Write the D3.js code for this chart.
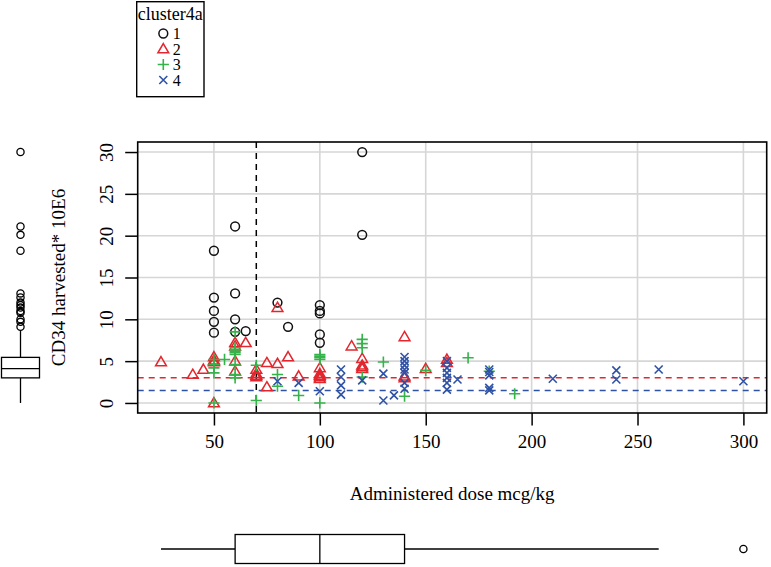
<!DOCTYPE html>
<html><head><meta charset="utf-8">
<script src="https://cdn.jsdelivr.net/npm/d3@7"></script>
<style>body{margin:0;background:#fff}svg{display:block}</style>
</head><body><svg id="c" width="771" height="567"></svg>
<script>
// ---- data ----
const clusters = ["1","2","3","4"];
const c1x = [50,50,50,50,50, 60,60,60,60, 65, 80, 85, 100,100,100,100,100, 120,120];
const c1y = [18.2,12.6,11.0,9.7,8.4, 21.1,13.1,10.0,8.5, 8.6, 12.0, 9.1, 11.7,11.0,10.7,8.2,7.2, 30.0,20.1];
const c2x = [25,40,45,50,50,50,50,50, 60,60,60,60, 65, 70,70,70,70, 75,75, 80,80, 85, 90, 100,100,100,100,100, 115, 120,120,120,120, 140,140,140, 150, 160,160];
const c2y = [4.9,3.4,4.0,5.5,5.1,4.9,5.0,0.0, 7.2,6.8,5.0,3.8, 7.2, 4.0,3.5,3.3,3.1, 4.8,1.9, 11.4,4.7, 5.5, 3.2, 4.2,3.5,3.3,3.1,2.9, 6.8, 5.3,4.5,4.3,4.1, 7.9,3.2,3.0, 4.1, 5.2,4.8];
const c3x = [50,50,50,50,50, 55, 60,60,60,60,60,60,60,60,60, 70,70, 80,80, 90, 100,100,100,100,100, 120,120,120,120, 130, 140, 150, 170, 180, 192];
const c3y = [5.2,4.6,4.2,3.6,0.0, 5.2, 8.5,6.6,6.4,6.2,6.0,5.8,4.6,3.4,3.0, 4.5,0.3, 3.4,2.0, 0.9, 5.8,5.6,5.4,5.2,0.0, 7.6,7.1,6.6,3.1, 4.9, 0.8, 3.9, 5.4, 3.8, 1.1];
const c4x = [80, 90, 100, 110,110,110,110, 120, 130,130, 135, 140,140,140,140,140,140,140, 160,160,160,160,160,160, 165, 180,180,180,180,180, 210, 240,240, 260, 300];
const c4y = [2.6, 2.4, 1.4, 4.0,3.1,2.1,1.0, 2.7, 3.5,0.3, 0.9, 5.5,5.0,4.5,4.0,3.6,2.4,1.7, 5.0,4.2,3.6,3.0,2.4,1.6, 2.8, 4.0,3.7,3.3,1.8,1.5, 2.9, 3.9,2.8, 4.0, 2.6];
const xTicks = [50,100,150,200,250,300];
const yTicks = [0,5,10,15,20,25,30];
const xLim = [14, 311];
const yLim = [-1.2, 31.2];
const vLineX = 70;
const hLineRed = 3.0;
const hLineBlue = 1.5;
// boxplot stats: [lowerWhisker, Q1, median, Q3, upperWhisker]
const doseBox = [25, 60, 100, 140, 260];
const doseOut = [300];
const cd34Box = [0, 3.0, 4.1, 5.45, 8.6];
const cd34Out = [9.1,9.7,10.0,10.8,11.0,11.4,11.7,12.0,12.6,13.1,18.2,20.1,21.1,30.0];
const xTitle = "Administered dose mcg/kg";
const yTitle = "CD34 harvested* 10E6";
const legendTitle = "cluster4a";

// ---- drawing ----
const cols = {"1":"#111111","2":"#e3262e","3":"#35b34a","4":"#2e52a6"};
const font = "'Liberation Serif','Times New Roman',serif";
const svg = d3.select("#c");
const L=137.7,R=766.7,T=142,B=413;
const x = d3.scaleLinear().domain(xLim).range([L,R]);
const y = d3.scaleLinear().domain(yLim).range([B,T]);

// grid
svg.append("g").selectAll("line").data(xTicks).join("line")
  .attr("x1",d=>x(d)).attr("x2",d=>x(d)).attr("y1",T).attr("y2",B)
  .attr("stroke","#d6d6d6").attr("stroke-width",1.6);
svg.append("g").selectAll("line").data(yTicks).join("line")
  .attr("y1",d=>y(d)).attr("y2",d=>y(d)).attr("x1",L).attr("x2",R)
  .attr("stroke","#d6d6d6").attr("stroke-width",1.6);

// axes
const xa = svg.append("g").attr("transform",`translate(0,${B})`)
  .call(d3.axisBottom(x).tickValues(xTicks).tickSize(12.5).tickPadding(9).tickFormat(d3.format("d")));
const ya = svg.append("g").attr("transform",`translate(${L},0)`)
  .call(d3.axisLeft(y).tickValues(yTicks).tickSize(12.5).tickFormat(d3.format("d")));
[xa,ya].forEach(a=>{a.select(".domain").remove();
  a.selectAll(".tick line").attr("stroke","#000").attr("stroke-width",1.5);
  a.selectAll("text").attr("font-family",font).attr("font-size",19).attr("fill","#000");});
ya.selectAll(".tick text").attr("x",null).attr("dy",null).attr("text-anchor","middle")
  .attr("transform","translate(-25,0) rotate(-90)");

// reference lines
const pl = svg.append("g");
pl.append("line").attr("x1",x(vLineX)).attr("x2",x(vLineX)).attr("y1",T).attr("y2",B)
  .attr("stroke","#000").attr("stroke-width",1.5).attr("stroke-dasharray","6,5");
pl.append("line").attr("x1",L).attr("x2",R).attr("y1",y(hLineRed)).attr("y2",y(hLineRed))
  .attr("stroke","#e3262e").attr("stroke-width",1.5).attr("stroke-dasharray","6,5");
pl.append("line").attr("x1",L).attr("x2",R).attr("y1",y(hLineBlue)).attr("y2",y(hLineBlue))
  .attr("stroke","#2e52a6").attr("stroke-width",1.5).attr("stroke-dasharray","6,5");

// symbols
function sym(g,k,cx,cy){
  const c=cols[k];
  if(k==="1") g.append("circle").attr("cx",cx).attr("cy",cy).attr("r",4.4).attr("fill","none").attr("stroke",c).attr("stroke-width",1.5);
  if(k==="2") g.append("path").attr("d",`M${cx},${cy-5.4}L${cx+5.4},${cy+3.8}L${cx-5.4},${cy+3.8}Z`).attr("fill","none").attr("stroke",c).attr("stroke-width",1.5);
  if(k==="3") g.append("path").attr("d",`M${cx-5.6},${cy}H${cx+5.6}M${cx},${cy-5.6}V${cy+5.6}`).attr("stroke",c).attr("stroke-width",1.6);
  if(k==="4") g.append("path").attr("d",`M${cx-4},${cy-4}L${cx+4},${cy+4}M${cx-4},${cy+4}L${cx+4},${cy-4}`).attr("stroke",c).attr("stroke-width",1.6);
}
const series = {"1":[c1x,c1y],"2":[c2x,c2y],"3":[c3x,c3y],"4":[c4x,c4y]};
const pg = svg.append("g");
clusters.forEach(k=>{const [xs,ys]=series[k]; xs.forEach((v,i)=>sym(pg,k,x(v),y(ys[i])));});

// frame
svg.append("rect").attr("x",L).attr("y",T).attr("width",R-L).attr("height",B-T)
  .attr("fill","none").attr("stroke","#000").attr("stroke-width",1.6);

// titles
svg.append("text").attr("x",(L+R)/2).attr("y",500).attr("text-anchor","middle")
  .attr("font-family",font).attr("font-size",19).text(xTitle);
svg.append("text").attr("transform",`translate(65,${(T+B)/2}) rotate(-90)`).attr("text-anchor","middle")
  .attr("font-family",font).attr("font-size",19).text(yTitle);

// left boxplot (vertical)
const lb = svg.append("g").attr("stroke","#000").attr("stroke-width",1.3).attr("fill","none");
const lcx = 20.5, lw = 19;
lb.append("line").attr("x1",lcx).attr("x2",lcx).attr("y1",y(cd34Box[0])).attr("y2",y(cd34Box[1]));
lb.append("line").attr("x1",lcx).attr("x2",lcx).attr("y1",y(cd34Box[3])).attr("y2",y(cd34Box[4]));
lb.append("rect").attr("x",lcx-lw).attr("width",2*lw).attr("y",y(cd34Box[3])).attr("height",y(cd34Box[1])-y(cd34Box[3])).attr("fill","#fff");
lb.append("line").attr("x1",lcx-lw).attr("x2",lcx+lw).attr("y1",y(cd34Box[2])).attr("y2",y(cd34Box[2]));
lb.selectAll("circle").data(cd34Out).join("circle").attr("cx",lcx).attr("cy",d=>y(d)).attr("r",3.6);

// bottom boxplot (horizontal)
const bb = svg.append("g").attr("stroke","#000").attr("stroke-width",1.3).attr("fill","none");
const bcy = 549, bw = 14.5;
bb.append("line").attr("y1",bcy).attr("y2",bcy).attr("x1",x(doseBox[0])).attr("x2",x(doseBox[1]));
bb.append("line").attr("y1",bcy).attr("y2",bcy).attr("x1",x(doseBox[3])).attr("x2",x(doseBox[4]));
bb.append("rect").attr("y",bcy-bw).attr("height",2*bw).attr("x",x(doseBox[1])).attr("width",x(doseBox[3])-x(doseBox[1])).attr("fill","#fff");
bb.append("line").attr("y1",bcy-bw).attr("y2",bcy+bw).attr("x1",x(doseBox[2])).attr("x2",x(doseBox[2]));
bb.selectAll("circle").data(doseOut).join("circle").attr("cy",bcy).attr("cx",d=>x(d)).attr("r",3.6);

// legend
const lg = svg.append("g");
lg.append("rect").attr("x",136.7).attr("y",1.7).attr("width",67.3).attr("height",95)
  .attr("fill","#fff").attr("stroke","#000").attr("stroke-width",1.4);
lg.append("text").attr("x",170.3).attr("y",20).attr("text-anchor","middle")
  .attr("font-family",font).attr("font-size",18).text(legendTitle);
clusters.forEach((k,i)=>{
  const yy = 33.5 + i*15.5;
  sym(lg,k,163.3,yy);
  lg.append("text").attr("x",172.7).attr("y",yy+5.5).attr("font-family",font).attr("font-size",16).text(k);
});
</script></body></html>
